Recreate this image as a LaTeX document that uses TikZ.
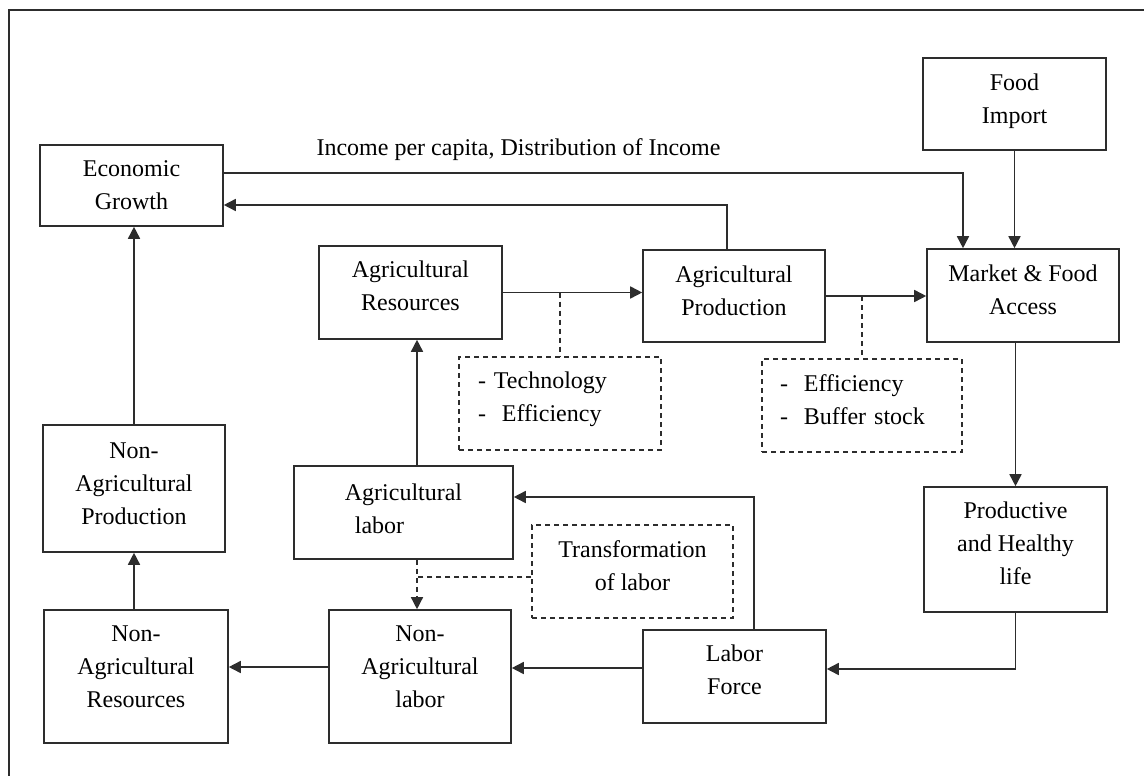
\documentclass[tikz,border=0pt]{standalone}
\usepackage{fontspec}
\setmainfont{Liberation Serif}
\usetikzlibrary{arrows.meta}
\definecolor{linecol}{RGB}{45,45,45}
\tikzset{
  box/.style={draw=linecol, line width=1.6pt, inner sep=0pt, align=center, font=\fontsize{24}{33}\selectfont},
  dbox/.style={draw=linecol, line width=1.4pt, dash pattern=on 5pt off 4pt, inner sep=0pt, font=\fontsize{24}{33}\selectfont},
  conn/.style={draw=linecol, line width=1.6pt},
  arr/.style={conn, -{Triangle[length=12pt,width=12pt]}},
  dsh/.style={draw=linecol, line width=1.4pt, dash pattern=on 5pt off 4pt},
  darr/.style={dsh, -{Triangle[length=12pt,width=12pt]}},
}
\begin{document}
\begin{tikzpicture}[x=1pt,y=-1pt]
\useasboundingbox (0,0) rectangle (1144,776);
\fill[white] (0,0) rectangle (1144,776);
\draw[conn] (9,790) -- (9,10) -- (1160,10);

\node[box, minimum width=183, minimum height=81] (eg) at (131.5,185.5) {Economic\\Growth};
\node[box, minimum width=183, minimum height=92, text depth=11.2pt] (fi) at (1014.5,104) {Food\\Import};
\node[box, minimum width=192, minimum height=93, text depth=12pt] (mk) at (1023,295.5) {Market \& Food\\Access};
\node[box, minimum width=183, minimum height=93, text depth=13pt] (ar) at (410.5,292.5) {Agricultural\\Resources};
\node[box, minimum width=182, minimum height=92, text depth=10pt] (ap) at (734,296) {Agricultural\\Production};
\node[dbox, minimum height=93, text width=164, inner xsep=19pt, align=left, text depth=46.2pt] (tech) at (560,403.5) {- Technology\\-\ \ Efficiency};
\node[dbox, minimum height=93, text width=164, inner xsep=18pt, align=left, text depth=45pt] (eff) at (862,405.5) {-\ \ Efficiency\\-\ \ Buffer stock};
\node[box, minimum width=183, minimum height=125, text depth=12pt] (ph) at (1015.5,549.5) {Productive\\and Healthy\\life};
\node[box, minimum width=183, minimum height=93, text depth=14pt] (lf) at (734.5,676.5) {Labor\\Force};
\node[box, minimum width=219, minimum height=93, text depth=8pt, align=left] (al) at (403.5,512.5) {Agricultural\\\hspace*{10pt}labor};
\node[dbox, minimum width=201, minimum height=93, align=center, text depth=12pt] (tr) at (632.5,571.5) {Transformation\\of labor};
\node[box, minimum width=182, minimum height=133, text depth=20pt] (nal) at (420,676.5) {Non-\\Agricultural\\labor};
\node[box, minimum width=184, minimum height=133, text depth=20pt] (nar) at (136,676.5) {Non-\\Agricultural\\Resources};
\node[box, minimum width=182, minimum height=127, text depth=10pt] (nap) at (134,488.5) {Non-\\Agricultural\\Production};

\node[font=\fontsize{24}{33}\selectfont, anchor=base, inner sep=0pt] (inc) at (518.5,155) {Income per capita, Distribution of Income};

% connectors
\draw[arr] ([yshift=12.5]eg.east) -| ([xshift=-60]mk.north);
\draw[arr] ([xshift=-7]ap.north) |- ([yshift=-19.5]eg.east);
\draw[arr] (fi.south) -- (fi.south |- mk.north);
\draw[arr] (ar.east) -- (ap.west |- ar.east);
\draw[dsh] (tech.north |- ar.east) -- (tech.north);
\draw[arr] (ap.east) -- (mk.west |- ap.east);
\draw[dsh] (eff.north |- ap.east) -- (eff.north);
\draw[arr] (ph.north |- mk.south) -- (ph.north);
\draw[arr] (ph.south) |- ([yshift=7.5]lf.east);
\draw[arr] ([xshift=19.5]lf.north) |- ([yshift=15.5]al.east);
\coordinate (au) at ([xshift=13.5]al.north);
\draw[arr] (au) -- (au |- ar.south);
\coordinate (ad) at ([xshift=13.5]al.south);
\draw[darr] (ad) -- (ad |- nal.north);
\coordinate (trw) at ([yshift=-5.5]tr.west);
\draw[dsh] (trw) -- (ad |- trw);
\draw[arr] ([yshift=8.5]lf.west) -- ([yshift=8.5]nal.east);
\draw[arr] ([yshift=9.5]nal.west) -- ([yshift=9.5]nar.east);
\draw[arr] (nap.south |- nar.north) -- (nap.south);
\draw[arr] (nap.north) -- (nap.north |- eg.south);
\end{tikzpicture}
\end{document}
